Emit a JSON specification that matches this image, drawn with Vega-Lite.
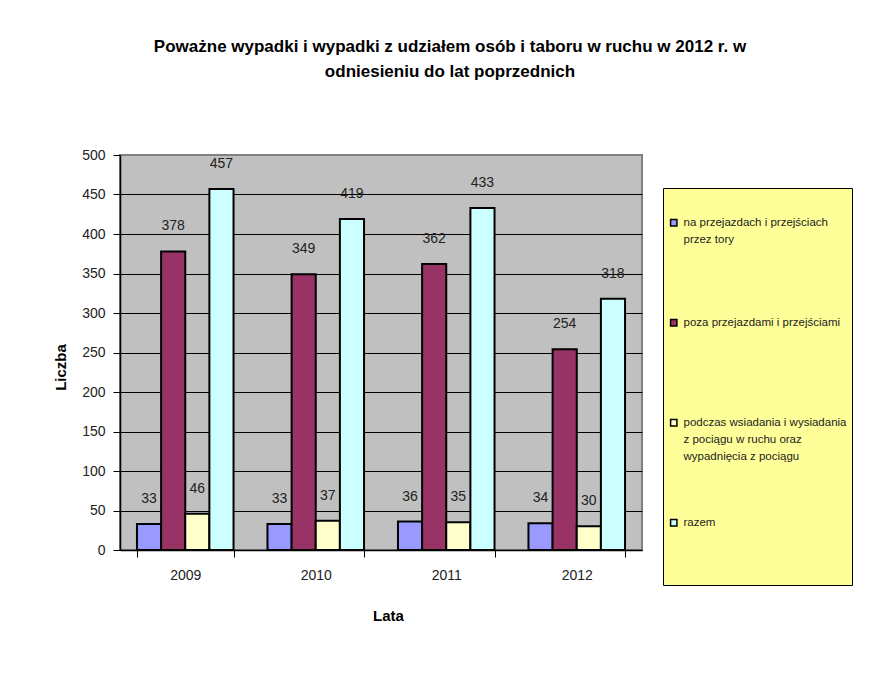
{
  "$schema": "https://vega.github.io/schema/vega-lite/v6.json",
  "autosize": "none",
  "width": 522,
  "height": 395,
  "padding": {"left": 120, "top": 155, "right": 228, "bottom": 125},
  "background": "white",
  "title": {
    "text": ["Poważne wypadki i wypadki z udziałem osób i taboru w ruchu w 2012 r. w", "odniesieniu do lat poprzednich"],
    "anchor": "middle",
    "frame": "group",
    "dx": 69,
    "offset": 67,
    "font": "Liberation Sans",
    "fontSize": 17,
    "fontWeight": "bold",
    "lineHeight": 25,
    "color": "#000000"
  },
  "data": {
    "values": [
      {"year": "2009", "series": "na przejazdach i przejściach przez tory", "value": 33},
      {"year": "2009", "series": "poza przejazdami i przejściami", "value": 378},
      {"year": "2009", "series": "podczas wsiadania i wysiadania z pociągu w ruchu oraz wypadnięcia z pociągu", "value": 46},
      {"year": "2009", "series": "razem", "value": 457},
      {"year": "2010", "series": "na przejazdach i przejściach przez tory", "value": 33},
      {"year": "2010", "series": "poza przejazdami i przejściami", "value": 349},
      {"year": "2010", "series": "podczas wsiadania i wysiadania z pociągu w ruchu oraz wypadnięcia z pociągu", "value": 37},
      {"year": "2010", "series": "razem", "value": 419},
      {"year": "2011", "series": "na przejazdach i przejściach przez tory", "value": 36},
      {"year": "2011", "series": "poza przejazdami i przejściami", "value": 362},
      {"year": "2011", "series": "podczas wsiadania i wysiadania z pociągu w ruchu oraz wypadnięcia z pociągu", "value": 35},
      {"year": "2011", "series": "razem", "value": 433},
      {"year": "2012", "series": "na przejazdach i przejściach przez tory", "value": 34},
      {"year": "2012", "series": "poza przejazdami i przejściami", "value": 254},
      {"year": "2012", "series": "podczas wsiadania i wysiadania z pociągu w ruchu oraz wypadnięcia z pociągu", "value": 30},
      {"year": "2012", "series": "razem", "value": 318}
    ]
  },
  "encoding": {
    "x": {
      "field": "year",
      "type": "nominal",
      "scale": {"paddingInner": 0.26, "paddingOuter": 0.13},
      "axis": {
        "title": "Lata",
        "titleFont": "Liberation Sans",
        "titleFontSize": 15,
        "titleFontWeight": "bold",
        "titleColor": "#000000",
        "titleX": 268,
        "titleY": 65,
        "titleBaseline": "middle",
        "titleAlign": "center",
        "labelAngle": 0,
        "labelFont": "Liberation Sans",
        "labelFontSize": 14,
        "labelColor": "#222222",
        "labelPadding": 11,
        "tickBand": "extent",
        "tickColor": "#000000",
        "tickSize": 7,
        "domainColor": "#000000",
        "domainWidth": 1.5,
        "grid": false
      }
    },
    "xOffset": {
      "field": "series",
      "type": "nominal",
      "sort": ["na przejazdach i przejściach przez tory", "poza przejazdami i przejściami", "podczas wsiadania i wysiadania z pociągu w ruchu oraz wypadnięcia z pociągu", "razem"],
      "scale": {"paddingInner": 0, "paddingOuter": 0}
    },
    "y": {
      "field": "value",
      "type": "quantitative",
      "scale": {"domain": [0, 500], "nice": false},
      "axis": {
        "title": "Liczba",
        "titleFont": "Liberation Sans",
        "titleFontSize": 15,
        "titleFontWeight": "bold",
        "titleColor": "#000000",
        "titleX": -60,
        "titleY": 212,
        "titleAngle": -90,
        "titleAlign": "center",
        "titleBaseline": "middle",
        "values": [0, 50, 100, 150, 200, 250, 300, 350, 400, 450, 500],
        "labelFont": "Liberation Sans",
        "labelFontSize": 14,
        "labelColor": "#222222",
        "labelPadding": 8,
        "tickColor": "#000000",
        "tickSize": 7,
        "domainColor": "#000000",
        "domainWidth": 1.5,
        "grid": true,
        "gridColor": {"condition": {"test": "datum.value === 500", "value": "#808080"}, "value": "#000000"},
        "gridWidth": 1.2
      }
    }
  },
  "layer": [
    {
      "mark": {"type": "bar", "stroke": "#000000", "strokeWidth": 2},
      "encoding": {
        "fill": {
          "field": "series",
          "type": "nominal",
          "sort": ["na przejazdach i przejściach przez tory", "poza przejazdami i przejściami", "podczas wsiadania i wysiadania z pociągu w ruchu oraz wypadnięcia z pociągu", "razem"],
          "scale": {
            "domain": ["na przejazdach i przejściach przez tory", "poza przejazdami i przejściami", "podczas wsiadania i wysiadania z pociągu w ruchu oraz wypadnięcia z pociągu", "razem"],
            "range": ["#9999FF", "#993366", "#FFFFCC", "#CCFFFF"]
          },
          "legend": {
            "orient": "none",
            "legendX": 543,
            "legendY": 33,
            "title": " ",
            "titleFontSize": 10,
            "titlePadding": 14,
            "fillColor": "#FFFF99",
            "strokeColor": "#000000",
            "padding": 5,
            "gridAlign": "each",
            "rowPadding": 53,
            "symbolType": "square",
            "symbolSize": 40,
            "symbolStrokeColor": "#000000",
            "symbolStrokeWidth": 1.5,
            "labelFont": "Liberation Sans",
            "labelFontSize": 11.5,
            "labelColor": "#222222",
            "labelBaseline": "top",
            "labelOffset": 4,
            "labelLimit": 300,
            "labelExpr": "datum.label === 'razem' ? ['razem', '', '', ''] : datum.label === 'poza przejazdami i przejściami' ? ['poza przejazdami i przejściami', '', ''] : indexof(datum.label, 'podczas') === 0 ? ['podczas wsiadania i wysiadania', 'z pociągu w ruchu oraz', 'wypadnięcia z pociągu'] : ['na przejazdach i przejściach', 'przez tory', '']",
            "encode": {"labels": {"update": {"dy": {"value": -6}, "lineHeight": {"value": 17}}}}
          }
        }
      }
    },
    {
      "mark": {"type": "text", "baseline": "middle", "dy": -25, "font": "Liberation Sans", "fontSize": 14, "color": "#222222"},
      "encoding": {
        "text": {"field": "value", "type": "quantitative"}
      }
    }
  ],
  "config": {
    "view": {"fill": "#C0C0C0", "stroke": "#808080", "strokeWidth": 2}
  }
}
